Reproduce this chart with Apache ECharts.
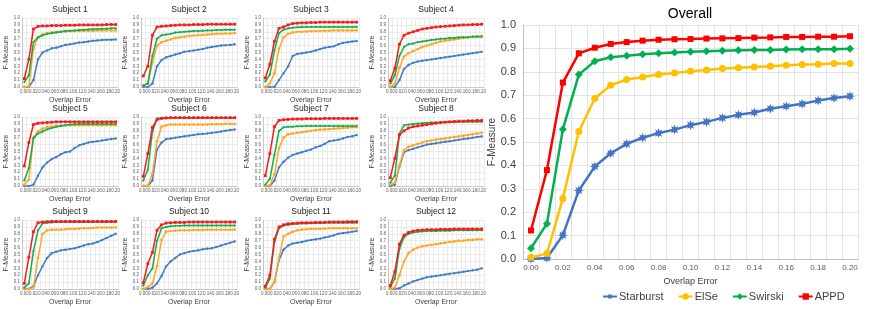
<!DOCTYPE html>
<html>
<head>
<meta charset="utf-8">
<script src="https://cdn.jsdelivr.net/npm/echarts@6/dist/echarts.min.js"></script>
<style>html,body{margin:0;padding:0;background:#fff}#c{width:872px;height:309px}</style>
</head>
<body>
<div id="c"></div>
<script>
const categories = ['0.00','0.01','0.02','0.03','0.04','0.05','0.06','0.07','0.08','0.09','0.10','0.11','0.12','0.13','0.14','0.15','0.16','0.17','0.18','0.19','0.20'];
const methods = ['Starburst','ElSe','Swirski','APPD'];
const yTicks = [0,0.1,0.2,0.3,0.4,0.5,0.6,0.7,0.8,0.9,1.0];

// Overall
const overallStarburst = [0,0.004,0.102,0.293,0.395,0.452,0.492,0.518,0.538,0.553,0.572,0.586,0.603,0.616,0.626,0.642,0.653,0.663,0.677,0.688,0.696];
const overallElSe = [0.007,0.023,0.259,0.545,0.686,0.743,0.767,0.778,0.788,0.795,0.802,0.808,0.814,0.817,0.821,0.824,0.828,0.831,0.832,0.835,0.836];
const overallSwirski = [0.046,0.151,0.555,0.788,0.845,0.862,0.869,0.875,0.879,0.883,0.886,0.888,0.890,0.892,0.893,0.893,0.895,0.896,0.896,0.896,0.898];
const overallAPPD = [0.122,0.38,0.754,0.879,0.903,0.919,0.927,0.933,0.937,0.939,0.940,0.942,0.943,0.944,0.946,0.947,0.949,0.949,0.950,0.950,0.952];

// Subjects: [Starburst, ElSe, Swirski, APPD]
const subject1 = [
 [0,0,0.10,0.40,0.50,0.53,0.56,0.57,0.59,0.61,0.62,0.63,0.645,0.65,0.66,0.67,0.675,0.68,0.685,0.685,0.69],
 [0,0.01,0.55,0.72,0.76,0.78,0.79,0.80,0.80,0.805,0.81,0.81,0.81,0.815,0.815,0.815,0.82,0.82,0.82,0.82,0.82],
 [0.07,0.17,0.65,0.72,0.75,0.77,0.78,0.79,0.80,0.81,0.815,0.82,0.825,0.83,0.835,0.84,0.84,0.845,0.845,0.85,0.85],
 [0.12,0.40,0.84,0.88,0.885,0.885,0.89,0.89,0.89,0.895,0.895,0.895,0.90,0.90,0.90,0.90,0.90,0.90,0.905,0.905,0.905]];
const subject2 = [
 [0,0,0.05,0.30,0.39,0.43,0.45,0.47,0.49,0.51,0.52,0.53,0.54,0.55,0.57,0.58,0.59,0.60,0.605,0.61,0.62],
 [0.02,0.05,0.35,0.60,0.65,0.67,0.69,0.71,0.72,0.73,0.74,0.745,0.75,0.755,0.76,0.765,0.77,0.77,0.775,0.775,0.78],
 [0.02,0.05,0.45,0.70,0.75,0.76,0.77,0.79,0.795,0.80,0.805,0.81,0.81,0.815,0.82,0.82,0.825,0.825,0.83,0.83,0.83],
 [0.16,0.30,0.75,0.87,0.88,0.885,0.89,0.895,0.90,0.90,0.90,0.905,0.905,0.905,0.91,0.91,0.91,0.91,0.91,0.91,0.91]];
const subject3 = [
 [0,0,0,0.10,0.20,0.30,0.45,0.48,0.49,0.50,0.51,0.53,0.55,0.57,0.58,0.59,0.62,0.64,0.65,0.66,0.665],
 [0,0.05,0.20,0.55,0.72,0.77,0.79,0.80,0.80,0.805,0.81,0.81,0.81,0.815,0.815,0.82,0.82,0.82,0.82,0.82,0.82],
 [0.08,0.18,0.53,0.78,0.83,0.85,0.86,0.865,0.87,0.87,0.87,0.87,0.87,0.87,0.87,0.87,0.87,0.87,0.87,0.87,0.87],
 [0.13,0.33,0.66,0.85,0.87,0.90,0.92,0.925,0.93,0.93,0.935,0.935,0.94,0.94,0.94,0.94,0.94,0.94,0.94,0.94,0.94]];
const subject4 = [
 [0,0,0.10,0.26,0.32,0.35,0.37,0.38,0.39,0.40,0.41,0.42,0.43,0.44,0.45,0.46,0.47,0.48,0.49,0.50,0.51],
 [0,0.05,0.28,0.44,0.49,0.52,0.55,0.58,0.60,0.62,0.64,0.66,0.67,0.68,0.69,0.70,0.71,0.72,0.73,0.735,0.74],
 [0.05,0.17,0.45,0.58,0.62,0.63,0.65,0.66,0.67,0.68,0.69,0.70,0.70,0.71,0.71,0.72,0.72,0.72,0.73,0.73,0.73],
 [0.09,0.27,0.62,0.75,0.78,0.80,0.82,0.84,0.85,0.86,0.87,0.875,0.88,0.885,0.89,0.895,0.90,0.90,0.905,0.905,0.91]];
const subject5 = [
 [0,0,0.02,0.15,0.27,0.34,0.39,0.42,0.46,0.49,0.50,0.55,0.59,0.61,0.63,0.64,0.65,0.66,0.67,0.68,0.69],
 [0.02,0.09,0.70,0.79,0.83,0.85,0.86,0.87,0.875,0.88,0.88,0.88,0.88,0.88,0.88,0.88,0.88,0.88,0.88,0.88,0.88],
 [0.08,0.26,0.69,0.76,0.79,0.82,0.84,0.86,0.87,0.88,0.89,0.895,0.90,0.90,0.90,0.90,0.90,0.90,0.90,0.90,0.90],
 [0.29,0.63,0.89,0.91,0.915,0.92,0.925,0.93,0.93,0.93,0.93,0.93,0.93,0.93,0.93,0.93,0.93,0.93,0.93,0.93,0.93]];
const subject6 = [
 [0,0,0.08,0.53,0.63,0.68,0.69,0.70,0.71,0.72,0.73,0.74,0.75,0.755,0.76,0.77,0.78,0.79,0.80,0.81,0.82],
 [0,0,0.18,0.65,0.86,0.88,0.89,0.89,0.89,0.89,0.89,0.89,0.89,0.89,0.89,0.895,0.895,0.895,0.90,0.90,0.90],
 [0.08,0.24,0.79,0.98,0.99,0.99,0.99,0.99,0.99,0.99,0.99,0.99,0.99,0.99,0.99,0.99,0.99,0.99,0.99,0.99,0.99],
 [0.14,0.47,0.85,0.96,0.98,0.985,0.99,0.99,0.99,0.99,0.99,0.99,0.99,0.99,0.99,0.99,0.99,0.99,0.99,0.99,0.99]];
const subject7 = [
 [0,0,0.08,0.27,0.35,0.41,0.45,0.47,0.49,0.51,0.53,0.56,0.58,0.61,0.65,0.66,0.67,0.69,0.71,0.72,0.74],
 [0,0.01,0.17,0.55,0.70,0.75,0.76,0.77,0.78,0.79,0.80,0.81,0.815,0.82,0.825,0.83,0.835,0.84,0.845,0.85,0.85],
 [0.02,0.10,0.45,0.80,0.85,0.86,0.86,0.865,0.865,0.87,0.87,0.87,0.87,0.87,0.87,0.87,0.87,0.87,0.87,0.87,0.87],
 [0.15,0.47,0.86,0.95,0.96,0.965,0.97,0.97,0.97,0.975,0.975,0.975,0.975,0.98,0.98,0.98,0.98,0.98,0.98,0.98,0.98]];
const subject8 = [
 [0,0.02,0.28,0.49,0.52,0.54,0.56,0.58,0.60,0.61,0.62,0.63,0.64,0.65,0.66,0.67,0.68,0.69,0.70,0.71,0.72],
 [0.02,0.05,0.30,0.52,0.57,0.59,0.61,0.63,0.65,0.66,0.67,0.68,0.69,0.70,0.71,0.72,0.73,0.74,0.75,0.76,0.77],
 [0.05,0.15,0.76,0.88,0.89,0.90,0.905,0.91,0.915,0.92,0.92,0.92,0.925,0.925,0.925,0.93,0.93,0.93,0.93,0.93,0.93],
 [0.12,0.40,0.74,0.80,0.84,0.86,0.87,0.88,0.89,0.90,0.91,0.92,0.925,0.93,0.935,0.94,0.94,0.945,0.945,0.95,0.95]];
const subject9 = [
 [0,0,0.04,0.20,0.33,0.45,0.52,0.54,0.56,0.57,0.58,0.59,0.61,0.63,0.65,0.66,0.68,0.71,0.74,0.77,0.80],
 [0,0,0.02,0.45,0.80,0.85,0.86,0.86,0.86,0.865,0.87,0.87,0.875,0.88,0.88,0.885,0.89,0.89,0.89,0.89,0.89],
 [0.02,0.08,0.55,0.85,0.95,0.96,0.965,0.97,0.97,0.97,0.97,0.97,0.97,0.97,0.97,0.97,0.97,0.97,0.97,0.97,0.97],
 [0.08,0.46,0.83,0.96,0.97,0.975,0.98,0.98,0.98,0.98,0.98,0.98,0.98,0.98,0.98,0.98,0.98,0.98,0.98,0.98,0.98]];
const subject10 = [
 [0,0,0.02,0.08,0.19,0.33,0.40,0.45,0.50,0.52,0.54,0.55,0.56,0.575,0.585,0.59,0.61,0.63,0.65,0.67,0.69],
 [0,0.03,0.08,0.33,0.71,0.83,0.84,0.845,0.85,0.85,0.85,0.855,0.855,0.855,0.86,0.86,0.86,0.86,0.86,0.86,0.86],
 [0.05,0.20,0.30,0.70,0.88,0.90,0.91,0.915,0.915,0.92,0.92,0.92,0.92,0.92,0.92,0.92,0.92,0.92,0.92,0.92,0.92],
 [0.09,0.37,0.53,0.85,0.93,0.955,0.96,0.965,0.965,0.965,0.97,0.97,0.97,0.97,0.97,0.97,0.97,0.97,0.97,0.97,0.97]];
const subject11 = [
 [0,0,0.10,0.42,0.57,0.63,0.66,0.67,0.68,0.70,0.71,0.72,0.73,0.745,0.76,0.78,0.80,0.81,0.82,0.83,0.84],
 [0,0,0.10,0.45,0.76,0.80,0.83,0.85,0.86,0.865,0.87,0.87,0.875,0.875,0.88,0.88,0.88,0.88,0.88,0.88,0.88],
 [0.02,0.15,0.68,0.88,0.92,0.93,0.94,0.945,0.95,0.95,0.955,0.955,0.955,0.96,0.96,0.96,0.96,0.96,0.96,0.96,0.96],
 [0.04,0.20,0.72,0.90,0.93,0.945,0.95,0.955,0.96,0.96,0.96,0.965,0.965,0.965,0.97,0.97,0.97,0.97,0.975,0.975,0.975]];
const subject12 = [
 [0,0,0.01,0.05,0.08,0.11,0.13,0.15,0.17,0.18,0.19,0.20,0.21,0.22,0.23,0.24,0.25,0.26,0.27,0.28,0.30],
 [0,0.02,0.20,0.40,0.52,0.57,0.60,0.62,0.63,0.64,0.65,0.66,0.67,0.68,0.69,0.70,0.70,0.71,0.71,0.72,0.72],
 [0.03,0.15,0.58,0.75,0.80,0.82,0.83,0.835,0.84,0.84,0.84,0.845,0.845,0.845,0.85,0.85,0.85,0.85,0.85,0.85,0.85],
 [0.05,0.25,0.65,0.78,0.82,0.84,0.85,0.855,0.86,0.86,0.86,0.865,0.865,0.865,0.87,0.87,0.87,0.87,0.87,0.87,0.87]];
const subjects = [subject1,subject2,subject3,subject4,subject5,subject6,subject7,subject8,subject9,subject10,subject11,subject12];
const overall = [overallStarburst, overallElSe, overallSwirski, overallAPPD];

const starPath = 'path://M20 10 L14.6 11.9 L17.07 17.07 L11.9 14.6 L10 20 L8.1 14.6 L2.93 17.07 L5.4 11.9 L0 10 L5.4 8.1 L2.93 2.93 L8.1 5.4 L10 0 L11.9 5.4 L17.07 2.93 L14.6 8.1 Z';
const symbols = [starPath, 'circle', 'diamond', 'rect'];
const bigColors = ['#4472C4', '#FFC000', '#00B050', '#FF0000'];
const smallColors = ['#3F7DC4', '#FFA726', '#12AD4B', '#F41C1C'];
const FONT = 'Liberation Sans';

const colLeft = [22, 141, 263, 388];
const rowTop = [18, 117, 220];
const subW = 96, subH = 69;

const grids = [], xAxes = [], yAxes = [], series = [], graphics = [];

// Overall (index 0)
grids.push({left: 523, top: 25, width: 335, height: 234});
xAxes.push({type: 'category', gridIndex: 0, data: categories, boundaryGap: true,
  axisLine: {lineStyle: {color: '#bfbfbf'}}, axisTick: {show: false},
  axisLabel: {interval: 1, fontSize: 8, color: '#595959', margin: 5, fontFamily: FONT},
  splitLine: {show: true, interval: 0, lineStyle: {color: '#e3e3e3'}},
  name: 'Overlap Error', nameLocation: 'middle', nameGap: 17,
  nameTextStyle: {fontSize: 9, color: '#404040', fontFamily: FONT}});
yAxes.push({type: 'value', gridIndex: 0, min: 0, max: 1, interval: 0.1,
  axisLine: {show: true, lineStyle: {color: '#bfbfbf'}}, axisTick: {show: false},
  axisLabel: {fontSize: 11, color: '#404040', margin: 7, fontFamily: FONT, formatter: v => v.toFixed(1)},
  splitLine: {lineStyle: {color: '#e3e3e3'}},
  name: 'F-Measure', nameLocation: 'middle', nameGap: 21,
  nameTextStyle: {fontSize: 10, color: '#404040', fontFamily: FONT}});
methods.forEach((m, k) => {
  series.push({type: 'line', name: m, xAxisIndex: 0, yAxisIndex: 0, data: overall[k],
    symbol: symbols[k], symbolSize: k === 0 ? 10 : (k === 2 ? 8 : (k === 3 ? 6 : 7)),
    showAllSymbol: true, animation: false,
    lineStyle: {color: bigColors[k], width: 2.5},
    itemStyle: {color: bigColors[k]}, z: 2 + k});
});
graphics.push({type: 'text', x: 690, y: 14, style: {text: 'Overall', align: 'center', verticalAlign: 'middle', textAlign: 'center', textVerticalAlign: 'middle', fontSize: 14, fontFamily: FONT, fill: '#000'}});

subjects.forEach((subj, i) => {
  const r = Math.floor(i / 4), c = i % 4;
  const gi = i + 1;
  grids.push({left: colLeft[c], top: rowTop[r], width: subW, height: subH});
  xAxes.push({type: 'category', gridIndex: gi, data: categories, boundaryGap: true,
    axisLine: {lineStyle: {color: '#c8c8c8'}}, axisTick: {show: false},
    axisLabel: {interval: 1, fontSize: 4.5, color: '#595959', margin: 2, fontFamily: FONT},
    splitLine: {show: true, interval: 0, lineStyle: {color: '#e6e6e6', width: 0.8}},
    name: 'Overlap Error', nameLocation: 'middle', nameGap: 10,
    nameTextStyle: {fontSize: 7, color: '#404040', fontFamily: FONT}});
  yAxes.push({type: 'value', gridIndex: gi, min: 0, max: 1, interval: 0.1,
    axisLine: {show: true, lineStyle: {color: '#c8c8c8'}}, axisTick: {show: false},
    axisLabel: {fontSize: 4.5, color: '#595959', margin: 2, fontFamily: FONT, formatter: v => v.toFixed(1)},
    splitLine: {lineStyle: {color: '#e6e6e6', width: 0.8}},
    name: 'F-Measure', nameLocation: 'middle', nameGap: 10,
    nameTextStyle: {fontSize: 7, color: '#404040', fontFamily: FONT}});
  methods.forEach((m, k) => {
    series.push({type: 'line', name: 'S' + (i + 1) + ' ' + m, xAxisIndex: gi, yAxisIndex: gi, data: subj[k],
      symbol: symbols[k], symbolSize: k === 0 ? 3.5 : 2.8, showAllSymbol: true, animation: false,
      lineStyle: {color: smallColors[k], width: 1.5},
      itemStyle: {color: smallColors[k]}, z: 2 + k});
  });
  graphics.push({type: 'text', x: colLeft[c] + subW / 2, y: rowTop[r] - 8,
    style: {text: 'Subject ' + (i + 1), align: 'center', verticalAlign: 'middle', textAlign: 'center', textVerticalAlign: 'middle', fontSize: 8.5, fontFamily: FONT, fill: '#222'}});
});

const chart = echarts.init(document.getElementById('c'), null, {renderer: 'canvas'});
chart.setOption({
  animation: false,
  backgroundColor: '#fff',
  grid: grids, xAxis: xAxes, yAxis: yAxes, series: series,
  graphic: graphics,
  legend: {data: methods, left: 597, top: 286, itemWidth: 14, itemHeight: 8, itemGap: 14,
    textStyle: {fontSize: 11, color: '#404040', fontFamily: FONT, padding: [0, 0, 0, -3]}}
});
</script>
</body>
</html>
